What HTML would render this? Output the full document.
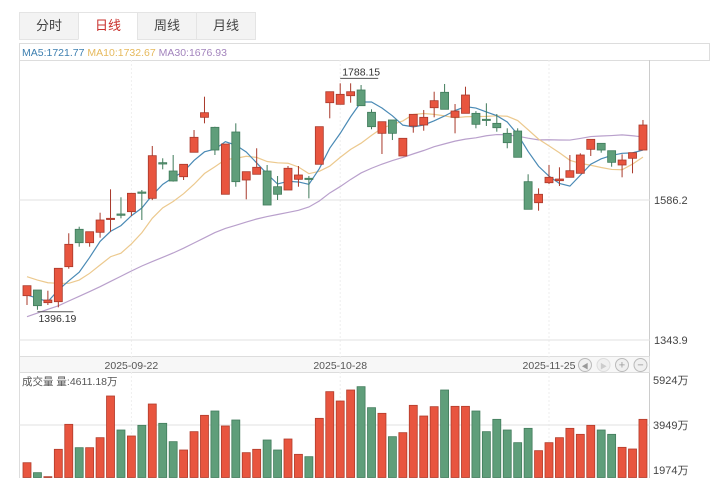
<!DOCTYPE html>
<html><head><meta charset="utf-8"><style>
body{margin:0;width:719px;height:485px;background:#fff;font-family:"Liberation Sans","Noto Sans CJK SC",sans-serif;overflow:hidden;position:relative}
.tab{position:absolute;top:12px;height:28px;width:60px;background:#f3f3f3;border:1px solid #e4e4e4;box-sizing:border-box;text-align:center;line-height:26px;font-size:13px;color:#444}
.tab.active{background:#fff;color:#c9302c;border-bottom-color:#fff}
</style></head><body>
<div class="tab" style="left:19px">分时</div>
<div class="tab active" style="left:78px">日线</div>
<div class="tab" style="left:137px">周线</div>
<div class="tab" style="left:196px">月线</div>
<svg id="c" width="719" height="485" style="position:absolute;left:0;top:0"></svg>
<script>
const opens=[1420.6,1430.4,1408.5,1410.2,1470.8,1535.5,1512.3,1530.3,1552.8,1562,1566,1600,1589.1,1650.8,1636.4,1626.5,1668.8,1729.3,1712,1596.1,1703.9,1620.8,1630.7,1636.4,1609.2,1603.5,1622,1623.8,1648,1754.6,1751.8,1766.7,1776.6,1738,1701.6,1724.7,1662.4,1714.3,1716,1745.9,1772.6,1729.3,1736.2,1736.2,1725.9,1718.9,1701.6,1705.6,1617.9,1581.5,1616.1,1619.6,1625.5,1632.4,1673.9,1684.3,1671.5,1646.8,1658.4,1672.7];
const highs=[1437.9,1430.4,1429.2,1468,1528.6,1540,1531.3,1564.2,1604.7,1590.9,1597.8,1603.5,1679.7,1658.4,1664.1,1648,1707.3,1765,1713,1683.1,1718.9,1635.2,1675.7,1646.8,1627.7,1645,1645,1627.7,1713.1,1773.6,1788.15,1788.15,1785.2,1743.2,1721.7,1724.7,1693,1734.5,1742,1773.6,1787,1752.3,1782.3,1740,1753.6,1735,1710.3,1710.3,1630.7,1606.4,1646.8,1642.8,1664.1,1667,1691.2,1684.3,1671.5,1665.3,1668.1,1724.7];
const lows=[1404.5,1396.19,1404.5,1400.5,1467.3,1505.4,1505.4,1521,1531.3,1554.5,1558.5,1551.6,1586,1639.3,1618,1620.8,1668.8,1718.9,1664.1,1596.1,1609.2,1587.4,1630.7,1577.5,1586.2,1603.5,1609.2,1589.1,1648,1727.6,1751.8,1754.6,1749.4,1708.6,1665.8,1690,1662.4,1702.7,1706.1,1729.3,1743.2,1701.6,1736.2,1710.3,1714.3,1704.4,1675.7,1660.1,1570.1,1567.7,1613.9,1610.4,1625.5,1632.4,1662.4,1668.1,1643.8,1625.5,1632.4,1672.7];
const closes=[1437.9,1403.3,1413.1,1468,1509.5,1512.3,1531.3,1551.6,1554.5,1559.7,1597.8,1597.8,1662.9,1648.5,1619.1,1648,1694.7,1737.3,1672.7,1683.1,1617.9,1635.2,1642.8,1577.5,1596.1,1641.1,1629.5,1622,1713.1,1773.6,1769.1,1773.6,1749.4,1713.1,1721.7,1701.6,1693,1734.5,1729.3,1758.1,1743.2,1740.2,1767.9,1717.2,1724.1,1711.3,1685.4,1660.1,1570.1,1596.1,1625.5,1622.5,1636.9,1664.1,1691.2,1672.7,1651.4,1655.4,1668.1,1716];
const volumes=[2294,1857,1681,2882,3979,2954,2954,3393,5223,3730,3467,3935,4871,4023,3218,2852,3657,4374,4564,3906,4169,2735,2882,3291,2852,3335,2662,2559,4242,5413,5003,5486,5632,4710,4462,3437,3613,4813,4344,4754,5486,4769,4769,4564,3657,4198,3730,3174,3803,2823,3174,3393,3803,3540,3935,3730,3540,2969,2896,4198];
const ma5Head=[1421.8,1416,1410.2,1430.4];
const ma10Head=[1453.5,1447.7,1443,1442,1442,1447.7,1459.3,1473.7,1488];
const ma30Head=[1384.2,1390.6,1397,1403.1,1411.4,1419.5,1427.8,1436.2,1445.2,1454.2,1463.3,1472,1479.6,1487,1494.5,1502.8,1511.8,1520.8,1529.8,1537,1542.4,1548.1,1553.3,1557.5,1561.1,1564.7,1568.4,1574.1,1584.5];
const priceTicks=[1586.2,1343.9];
const volTicks=[5924,3949,1974];
const dateLabels=[["2025-09-22",10],["2025-10-28",30],["2025-11-25",50]];

const svg=document.getElementById('c');
const NS='http://www.w3.org/2000/svg';
function el(t,a,p){const e=document.createElementNS(NS,t);for(const k in a)e.setAttribute(k,a[k]);(p||svg).appendChild(e);return e;}
const xOf=i=>27+i*10.44;
const yP=p=>200-(p-1586.2)/1.7307;
const yV=v=>470-(v-1974)/43.9;

// frames
let e;
e=el('rect',{x:19.5,y:43.5,width:690,height:17,fill:'#fff',stroke:'#ddd'});


e=el('line',{x1:19.5,y1:60,x2:19.5,y2:478,stroke:'#ddd'});


e=el('line',{x1:649.5,y1:60,x2:649.5,y2:478,stroke:'#ccc'});


e=el('rect',{x:19.5,y:356.5,width:630,height:16,fill:'#f7f7f7',stroke:'#ddd'});


dateLabels.forEach(d=>{
  const x=xOf(d[1]);
  e=el('line',{x1:x,y1:60,x2:x,y2:478,stroke:'#eee','stroke-dasharray':'2,2'});
  
  
  e=el('text',{x:x,y:369,'font-size':10.5,fill:'#555','text-anchor':'middle'});e.textContent=d[0];
  
  
});
priceTicks.forEach(p=>{
  const y=yP(p);
  e=el('line',{x1:19,y1:y,x2:650,y2:y,stroke:'#e2e2e2'});
  
  
  e=el('text',{x:654,y:y+4,'font-size':11,fill:'#444'});e.textContent=p.toFixed(1);
  
  
});
volTicks.forEach((v,k)=>{
  const y=yV(v);
  if(k==1){e=el('line',{x1:19,y1:y,x2:650,y2:y,stroke:'#e2e2e2'});
  
  }
  e=el('text',{x:653,y:y+4,'font-size':11,fill:'#444'});e.textContent=v+'万';
  
  
});
// nav buttons
['◀','▶','+','−'].forEach((g,k)=>{
  const cx=585+k*18.5;
  e=el('circle',{cx:cx,cy:365,r:6.5,fill:'#f0f0f0',stroke:k==1?'#ddd':'#bbb'});
  
  
  e=el('text',{x:cx,y:368.5,'font-size':k<2?7:11,fill:k==1?'#ccc':'#999','text-anchor':'middle'});e.textContent=g;
  
  
});
// legend text
const lg=el('text',{x:22,y:56,'font-size':10.5});


[['MA5:1721.77 ','#3d7fb0'],['MA10:1732.67 ','#e6b95c'],['MA30:1676.93','#a384bd']].forEach(t=>{const s=el('tspan',{fill:t[1]},lg);s.textContent=t[0];});
e=el('text',{x:22,y:385,'font-size':10.5,fill:'#555'});e.textContent='成交量 量:4611.18万';



// volume bars
volumes.forEach((v,i)=>{
  const up=closes[i]>=opens[i];const y=yV(v);
  e=el('rect',{x:xOf(i)-4,y:y,width:8,height:477.5-y,fill:up?'#e8553f':'#5f9e7a',stroke:up?'#b13c2b':'#427c5c','stroke-width':0.8});
  
  
});
// MA lines
function maSeries(n,head){return closes.map((c,i)=>{if(i<head.length)return head[i];let s=0;for(let j=i-n+1;j<=i;j++)s+=closes[j];return s/n;});}
[[30,ma30Head,'#b9a0cc','ma30-line'],[10,ma10Head,'#ecc98e','ma10-line'],[5,ma5Head,'#4a8ab5','ma5-line']].forEach(m=>{
  const vals=maSeries(m[0],m[1]);
  e=el('polyline',{points:vals.map((v,i)=>xOf(i)+','+yP(v)).join(' '),fill:'none',stroke:m[2],'stroke-width':1.2});
  
  
});
// candles
closes.forEach((c,i)=>{
  const o=opens[i],up=c>=o,x=xOf(i);
  const fill=up?'#e8553f':'#5f9e7a',st=up?'#a8382a':'#3f7a5a';
  e=el('line',{x1:x,y1:yP(highs[i]),x2:x,y2:yP(lows[i]),stroke:st,'stroke-width':1});
  
  
  const t=yP(Math.max(o,c)),b=yP(Math.min(o,c));
  e=el('rect',{x:x-4,y:t,width:8,height:Math.max(b-t,1.2),fill:fill,stroke:st,'stroke-width':0.8});
  
  
});
// extreme labels
const hi=Math.max(...highs),hiI=highs.indexOf(hi);
const lo=Math.min(...lows),loI=lows.indexOf(lo);
e=el('text',{x:xOf(hiI)+2,y:yP(hi)-8,'font-size':10.5,fill:'#333'});e.textContent=hi.toFixed(2);


e=el('line',{x1:xOf(hiI),y1:yP(hi)-5,x2:xOf(hiI)+38,y2:yP(hi)-5,stroke:'#555'});


e=el('text',{x:xOf(loI)+1,y:yP(lo)+12,'font-size':10.5,fill:'#333'});e.textContent=lo.toFixed(2);


e=el('line',{x1:xOf(loI),y1:yP(lo)+2,x2:xOf(loI)+36,y2:yP(lo)+2,stroke:'#555'});


</script>
</body></html>
